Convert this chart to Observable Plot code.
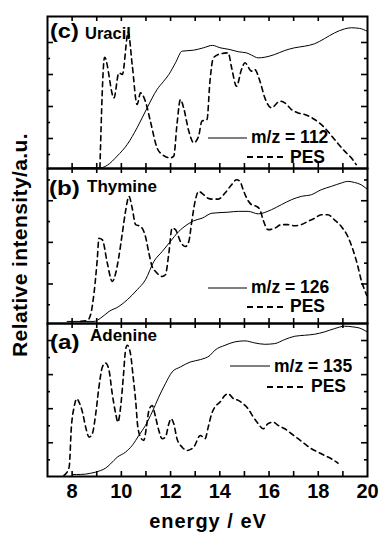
<!DOCTYPE html>
<html><head><meta charset="utf-8">
<script src="https://cdn.jsdelivr.net/npm/d3@7"></script>
<script src="https://cdn.jsdelivr.net/npm/@observablehq/plot@0.6"></script>
<style>
body{margin:0;background:#fff;}
#chart{position:relative;width:385px;height:538px;font-family:"Liberation Sans",Arial,Helvetica,sans-serif;font-weight:bold;color:#000;overflow:hidden;}
.lbl{position:absolute;white-space:nowrap;line-height:1;}
.wide{transform:scaleX(1.15);transform-origin:left center;}
svg{overflow:visible;}
</style></head><body><div id="chart"></div>
<script>
// ---- axis ticks ----
const xTickMarks = [8,9,10,11,12,13,14,15,16,17,18,19];
const xTickLabels = [8,10,12,14,16,18,20];

// ---- (c) Uracil : [energy eV, relative intensity] ----
const uracilIon = [[8.0,-0.83],[9.16,-0.83],[9.43,-0.67],[9.83,-0.10],[10.24,0.63],[10.64,1.67],[11.05,2.92],[11.45,4.06],[11.72,4.58],[11.93,5.0],[12.20,5.73],[12.47,6.46],[12.94,6.52],[13.34,6.67],[13.70,6.82],[14.01,6.67],[14.41,6.56],[14.75,6.42],[15.09,6.35],[15.29,6.21],[15.56,6.04],[15.83,6.08],[16.23,6.25],[16.64,6.50],[17.04,6.67],[17.45,6.77],[17.85,6.92],[18.26,7.25],[18.66,7.60],[19.07,7.85],[19.34,7.92],[19.68,7.88],[19.98,7.71]];
const uracilPES = [[9.13,-0.83],[9.32,6.08],[9.70,3.54],[9.90,5.10],[10.04,5.0],[10.28,7.64],[10.44,5.63],[10.64,3.13],[10.78,3.85],[10.98,3.31],[11.18,2.08],[11.45,0.42],[11.66,0.0],[11.99,-0.21],[12.13,-0.1],[12.26,1.88],[12.40,3.44],[12.53,2.92],[12.74,1.46],[12.94,0.73],[13.14,1.15],[13.27,2.08],[13.48,2.19],[13.60,4.58],[13.74,6.04],[14.01,6.29],[14.34,6.35],[14.48,5.42],[14.68,4.27],[14.88,5.31],[15.02,5.73],[15.29,5.21],[15.42,5.31],[15.63,4.58],[15.83,3.54],[16.10,2.92],[16.44,3.33],[16.64,3.23],[16.91,2.81],[17.18,2.60],[17.45,2.50],[17.85,2.19],[18.26,1.67],[18.66,0.94],[19.07,0.21],[19.34,-0.21],[19.54,-0.63]];
const uracilTicksLong = [1,3,5,7];
const uracilTicksShort = [0,2,4,6];

// ---- (b) Thymine ----
const thymineIon = [[7.8,-0.80],[8.89,-0.80],[9.16,-0.64],[9.50,-0.32],[9.90,-0.08],[10.24,0.24],[10.64,0.72],[10.98,1.20],[11.32,2.08],[11.66,2.56],[11.99,3.04],[12.33,3.52],[12.67,3.85],[12.94,4.04],[13.28,4.16],[13.68,4.40],[14.34,4.45],[14.75,4.49],[15.15,4.49],[15.56,4.37],[16.10,4.57],[16.50,4.81],[16.91,5.05],[17.31,5.21],[17.72,5.29],[18.12,5.53],[18.53,5.69],[18.93,5.85],[19.20,5.93],[19.47,5.88],[19.74,5.77],[19.98,5.56]];
const thyminePES = [[8.35,-0.80],[8.62,-0.75],[8.75,-0.48],[8.89,0.56],[9.02,2.16],[9.09,3.20],[9.23,3.12],[9.43,2.0],[9.63,1.12],[9.77,1.52],[9.90,2.32],[10.04,3.44],[10.17,4.49],[10.31,5.21],[10.44,4.65],[10.58,3.85],[10.78,3.77],[10.98,3.28],[11.12,2.48],[11.25,1.84],[11.39,1.60],[11.66,1.36],[11.79,1.44],[11.93,2.48],[12.06,3.68],[12.20,3.61],[12.40,3.04],[12.60,2.80],[12.74,3.04],[12.87,4.08],[13.01,5.05],[13.14,5.45],[13.34,5.29],[13.52,5.12],[13.67,5.08],[13.94,5.08],[14.21,5.37],[14.48,5.77],[14.68,6.01],[14.82,5.93],[14.95,5.53],[15.09,5.13],[15.29,4.81],[15.49,4.73],[15.63,4.57],[15.76,4.08],[15.96,3.61],[16.23,3.68],[16.50,3.85],[16.77,3.85],[17.04,3.80],[17.31,3.85],[17.58,4.01],[17.85,4.16],[18.12,4.33],[18.39,4.33],[18.66,4.08],[18.93,3.77],[19.20,3.28],[19.41,2.64],[19.61,1.84],[19.74,1.20],[19.88,0.72],[19.97,0.45]];
const thymineTicksLong = [1,3,5];
const thymineTicksShort = [0,2,4,6];

// ---- (a) Adenine ----
const adenineIon = [[8.01,-0.86],[8.35,-0.86],[8.75,-0.79],[9.16,-0.63],[9.36,-0.49],[9.56,-0.24],[9.83,0.15],[10.17,0.45],[10.44,0.84],[10.71,1.43],[10.98,2.02],[11.25,2.80],[11.52,3.68],[11.79,4.47],[12.06,5.15],[12.40,5.45],[12.80,5.74],[13.21,5.88],[13.61,6.14],[13.80,6.43],[14.21,6.72],[14.61,6.92],[15.02,6.98],[15.42,6.86],[15.83,6.78],[16.23,6.82],[16.64,7.06],[17.04,7.25],[17.45,7.31],[17.85,7.37],[18.26,7.51],[18.66,7.70],[19.07,7.84],[19.41,7.80],[19.74,7.70],[19.98,7.51]];
const adeninePES = [[7.67,-0.92],[7.88,-0.43],[7.97,1.92],[8.08,3.09],[8.19,3.59],[8.28,3.39],[8.42,2.80],[8.55,1.92],[8.69,1.33],[8.82,1.53],[8.96,2.71],[9.09,4.27],[9.23,5.45],[9.36,5.68],[9.50,5.25],[9.63,3.88],[9.77,2.71],[9.86,2.21],[9.97,3.09],[10.08,4.86],[10.17,6.43],[10.24,6.72],[10.37,6.24],[10.48,4.86],[10.58,3.49],[10.67,1.92],[10.81,1.24],[10.91,1.14],[11.02,1.92],[11.12,2.90],[11.25,3.19],[11.39,2.51],[11.52,1.73],[11.66,1.24],[11.79,1.33],[11.93,2.12],[12.02,2.41],[12.13,2.12],[12.26,1.24],[12.47,0.74],[12.67,0.55],[12.94,0.74],[13.21,1.43],[13.40,1.24],[13.53,1.92],[13.67,2.71],[13.80,3.09],[14.01,3.39],[14.21,3.78],[14.34,3.88],[14.55,3.59],[14.75,3.49],[14.95,3.29],[15.15,3.0],[15.36,2.51],[15.56,2.12],[15.76,1.82],[15.96,2.12],[16.17,2.21],[16.37,2.02],[16.64,1.82],[16.91,1.53],[17.18,1.24],[17.45,0.94],[17.72,0.65],[17.99,0.45],[18.26,0.25],[18.53,0.06],[18.80,-0.20]];
const adenineTicksLong = [1,3,5,7];
const adenineTicksShort = [0,2,4,6];

const FONT = '"Liberation Sans", Arial, Helvetica, sans-serif';
const W = 385, ML = 47, MR = 18;
const innerW = W - ML - MR;

function panel({ion, pes, yDomain, ticksLong, ticksShort, height, marginTop, marginBottom, showX}) {
  const h = height - marginTop - marginBottom;
  const ionData = ion.map(([x, y]) => ({x, y}));
  const pesData = pes.map(([x, y]) => ({x, y}));
  const marks = [
    Plot.line(ionData, {x: "x", y: "y", stroke: "black", strokeWidth: 1, curve: "monotone-x"}),
    Plot.line(pesData, {x: "x", y: "y", stroke: "black", strokeWidth: 1.6, strokeDasharray: "5,4", curve: "monotone-x"}),
    Plot.tickX(xTickMarks, {x: d => d, insetTop: h - 5, strokeWidth: 1.6}),
    Plot.tickX(xTickMarks, {x: d => d, insetBottom: h - 5, strokeWidth: 1.6}),
    Plot.tickY(ticksLong, {y: d => d, insetRight: innerW - 6, strokeWidth: 1.6}),
    Plot.tickY(ticksShort, {y: d => d, insetRight: innerW - 3, strokeWidth: 1.6}),
    Plot.tickY(ticksLong, {y: d => d, insetLeft: innerW - 6, strokeWidth: 1.6}),
    Plot.tickY(ticksShort, {y: d => d, insetLeft: innerW - 3, strokeWidth: 1.6}),
    Plot.frame({stroke: "black", strokeWidth: 2})
  ];
  if (showX) marks.push(Plot.axisX(xTickLabels, {anchor: "bottom", tickSize: 0, tickPadding: 7, fontSize: 20, fontWeight: "bold", label: null, tickFormat: d => String(d)}));
  return Plot.plot({
    width: W, height, marginLeft: ML, marginRight: MR, marginTop, marginBottom,
    x: {domain: [7, 20], axis: showX ? undefined : null},
    y: {domain: yDomain, axis: null},
    style: {background: "transparent", overflow: "visible", fontFamily: FONT, fontWeight: "bold", fontSize: "20px", color: "black"},
    marks
  });
}

const chart = document.getElementById("chart");
function place(el, top) { el.style.position = "absolute"; el.style.left = "0px"; el.style.top = top + "px"; chart.appendChild(el); }

place(panel({ion: uracilIon, pes: uracilPES, yDomain: [-0.875, 8.625], ticksLong: uracilTicksLong, ticksShort: uracilTicksShort, height: 168, marginTop: 16, marginBottom: 0}), 0);
place(panel({ion: thymineIon, pes: thyminePES, yDomain: [-0.9, 6.55], ticksLong: thymineTicksLong, ticksShort: thymineTicksShort, height: 155, marginTop: 0, marginBottom: 0}), 168);
place(panel({ion: adenineIon, pes: adeninePES, yDomain: [-0.98, 8.0], ticksLong: adenineTicksLong, ticksShort: adenineTicksShort, height: 215, marginTop: 0, marginBottom: 62, showX: true}), 323);

// ---- text labels ----
function label(text, left, top, size, cls) {
  const d = document.createElement("div");
  d.className = "lbl" + (cls ? " " + cls : "");
  d.textContent = text;
  d.style.left = left + "px"; d.style.top = top + "px"; d.style.fontSize = size + "px";
  chart.appendChild(d); return d;
}
label("(c)", 50, 21, 20.5, "wide");
label("Uracil", 85, 25, 16.5);
label("(b)", 49, 176.5, 21, "wide");
label("Thymine", 87, 178, 17);
label("(a)", 50, 330.5, 21, "wide");
label("Adenine", 90, 327, 17);

// legends
function legendLine(x1, x2, y, dashed) {
  const ns = "http://www.w3.org/2000/svg";
  const s = document.createElementNS(ns, "svg");
  s.setAttribute("width", x2 - x1); s.setAttribute("height", 4);
  s.style.position = "absolute"; s.style.left = x1 + "px"; s.style.top = (y - 2) + "px";
  const l = document.createElementNS(ns, "line");
  l.setAttribute("x1", 0); l.setAttribute("x2", x2 - x1); l.setAttribute("y1", 2); l.setAttribute("y2", 2);
  l.setAttribute("stroke", "black"); l.setAttribute("stroke-width", dashed ? 2 : 1);
  if (dashed) l.setAttribute("stroke-dasharray", "6,4");
  s.appendChild(l); chart.appendChild(s);
}
const legendIonLabels = ["m/z = 112", "m/z = 126", "m/z = 135"];
const legendPESLabel = "PES";
legendLine(208, 247, 138, false); label(legendIonLabels[0], 251, 129.3, 17.5);
legendLine(247, 285, 157, true); label(legendPESLabel, 290, 148.7, 17.5);
legendLine(208, 247, 287.7, false); label(legendIonLabels[1], 251, 279.3, 17.5);
legendLine(247, 285, 307, true); label(legendPESLabel, 290, 298, 17.5);
legendLine(230, 270, 365.7, false); label(legendIonLabels[2], 274, 358, 17.5);
legendLine(267, 305, 386.7, true); label(legendPESLabel, 311, 378.3, 17.5);

// axis titles
const yl = label("Relative intensity/a.u.", 19, 245, 21);
yl.style.letterSpacing = "0.4px";
yl.style.transform = "translate(-50%,-50%) rotate(-90deg)";
const xl = label("energy / eV", 208, 511, 20);
xl.style.letterSpacing = "1px";
xl.style.transform = "translateX(-50%)";
</script></body></html>
